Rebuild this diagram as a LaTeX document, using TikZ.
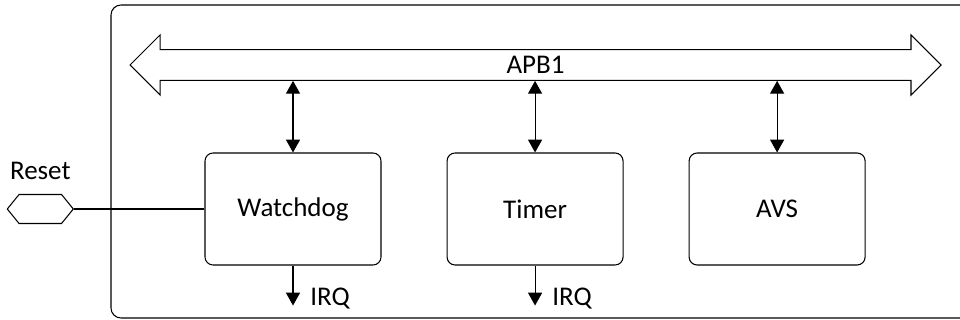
\documentclass[tikz,border=0pt]{standalone}
\usepackage{fontspec}
\setmainfont{Carlito}
\usepackage{tikz}
\usetikzlibrary{shapes.arrows, shapes.symbols, arrows.meta, positioning, calc}

\tikzset{
  block/.style={draw, rounded corners=0.2cm, minimum width=4.4cm, minimum height=2.8cm},
  bus/.style={draw, double arrow, double arrow head extend=0.3675cm, minimum height=20.275cm,
    inner xsep=0pt, inner ysep=0pt, text height=0.585cm, text depth=0.155cm},
  pin/.style={draw, signal, signal to=east and west, signal pointer angle=102,
    minimum width=1.65cm, minimum height=0.725cm, inner sep=0pt},
  lbl/.style={inner sep=0pt, anchor=base west}
}

\begin{document}
\begin{tikzpicture}[font=\fontsize{19.2}{23}\selectfont, line width=0.75pt,
    >={Triangle[width=0.35cm, length=0.32cm]}, node distance=1.625cm]
  \clip (0,0) rectangle (24,8);
  % outer frame, runs off the right edge
  \draw[rounded corners=0.25cm] (2.775,0.05) rectangle (24.6,7.875);

  \node[bus] (apb) at (13.3875,6.375) {APB1};

  \node[block] (wdog) at (7.325,2.775) {Watchdog};
  \node[block, right=of wdog] (timer) {Timer};
  \node[block, right=of timer] (avs) {AVS};

  % bus links
  \draw[<->] (wdog.north) -- (wdog.north |- apb.south);
  \draw[<->] (timer.north) -- (timer.north |- apb.south);
  \draw[<->] (avs.north) -- (avs.north |- apb.south);

  % interrupts
  \coordinate[below=1cm of wdog.south] (wirq);
  \coordinate[below=1cm of timer.south] (tirq);
  \draw[->] (wdog.south) -- (wirq);
  \draw[->] (timer.south) -- (tirq);
  \node[lbl] (wirqlbl) at ($(wirq)+(0.42,0)$) {IRQ};
  \node[lbl] (tirqlbl) at ($(tirq)+(0.42,0)$) {IRQ};

  % reset input
  \node[pin] (rst) at (1.0075,2.775) {};
  \node[inner sep=0pt, anchor=base] (rstlbl) at ($(rst.north)+(0,0.37)$) {Reset};
  \draw (rst.east) -- (wdog.west);
\end{tikzpicture}
\end{document}
